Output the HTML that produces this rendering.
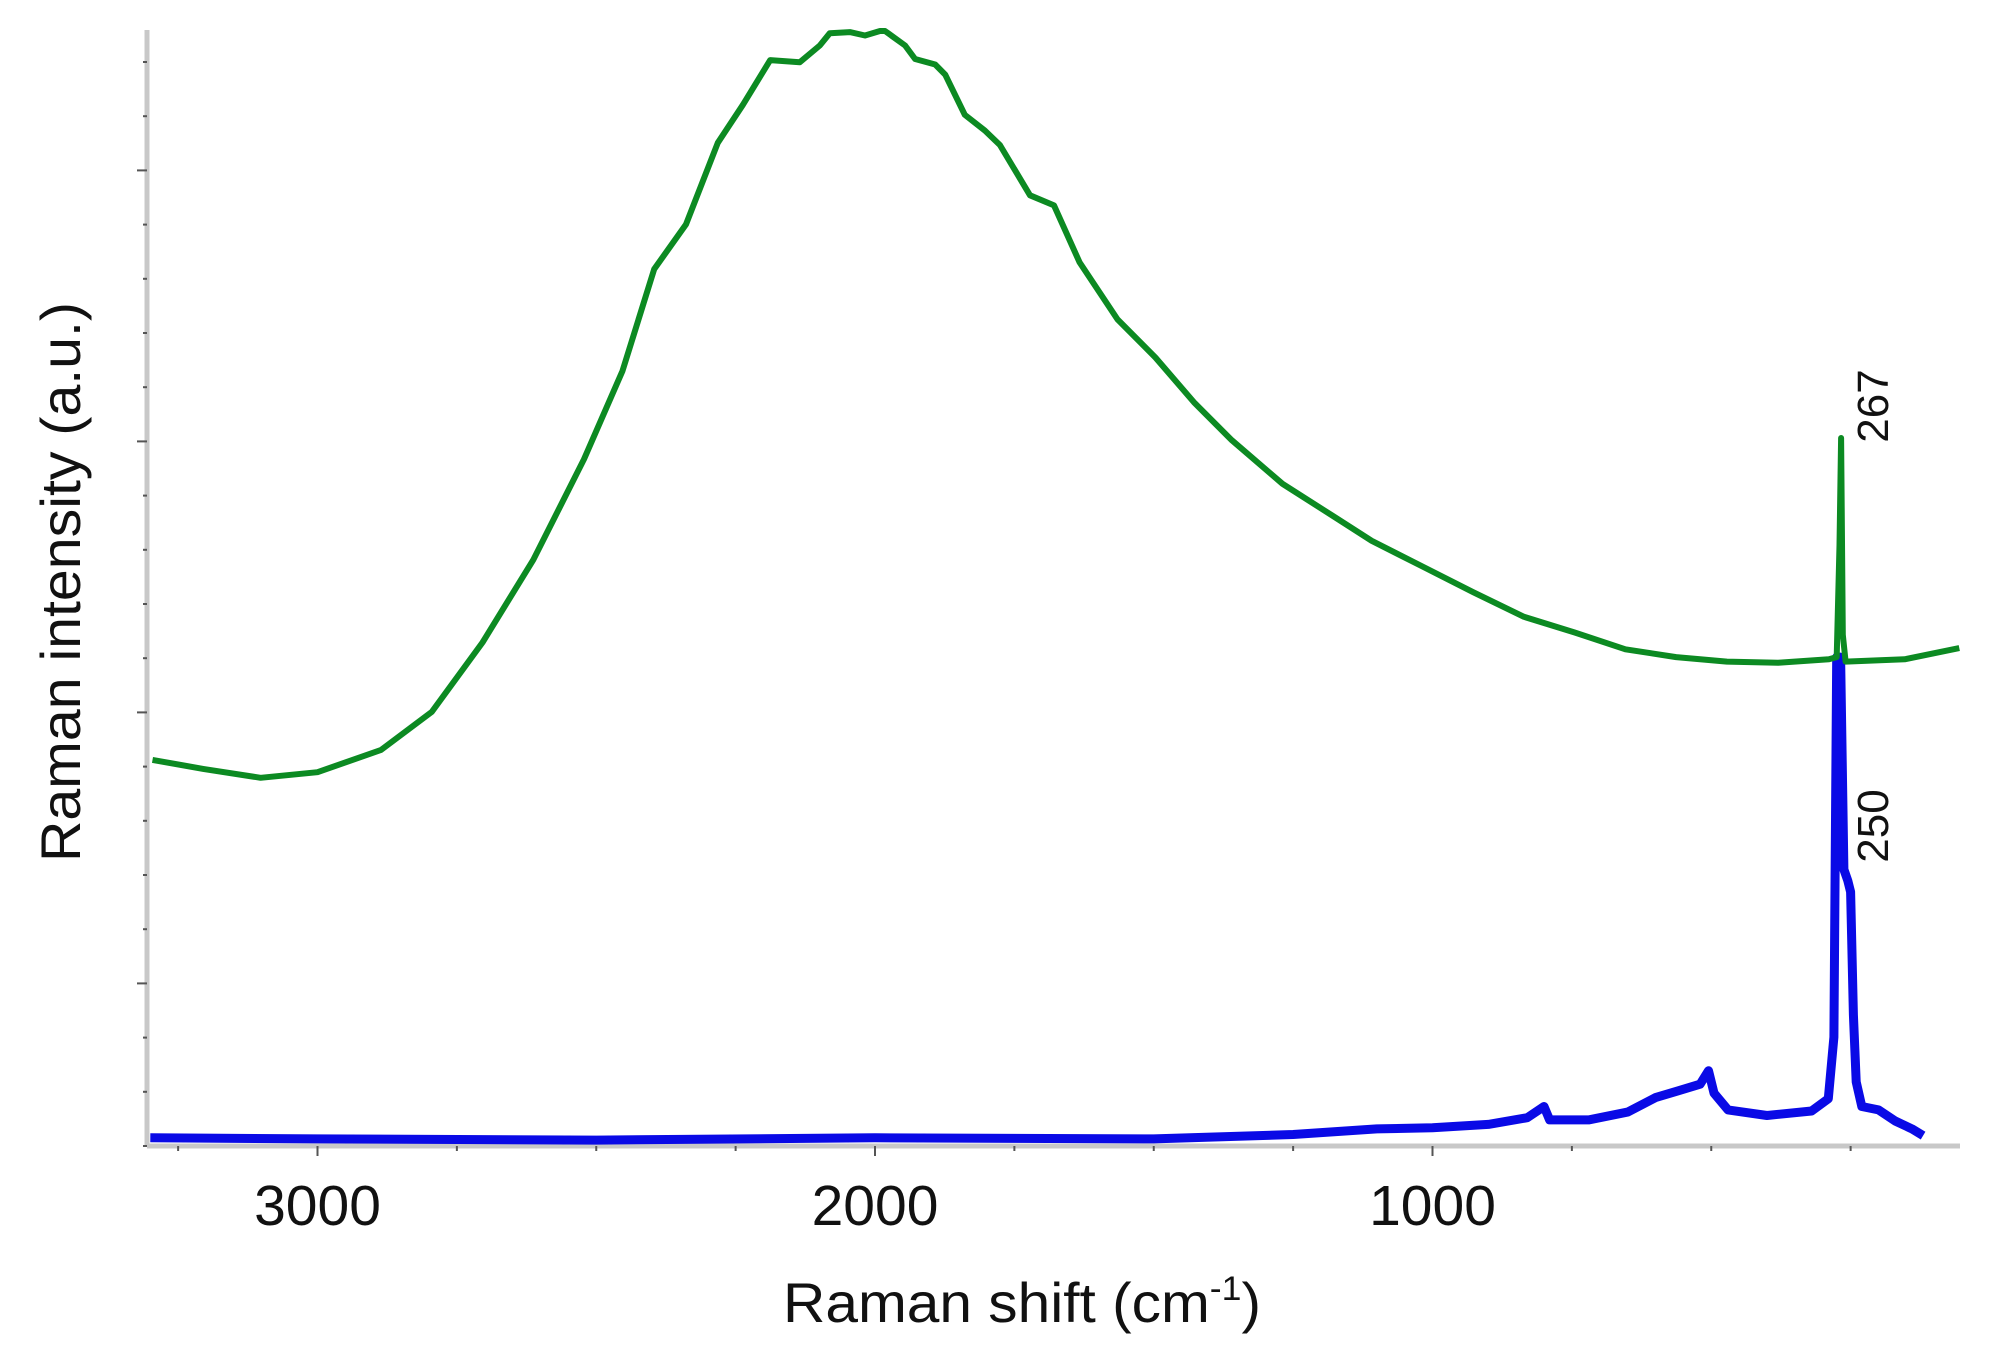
<!DOCTYPE html>
<html><head><meta charset="utf-8"><style>
html,body{margin:0;padding:0;background:#fff}
svg{display:block}
text{font-family:"Liberation Sans",sans-serif;fill:#111}
</style></head><body>
<svg id="chart" width="1991" height="1353" viewBox="0 0 1991 1353" xmlns="http://www.w3.org/2000/svg">
<g id="axes"></g>
<g id="series"></g>
<text x="1022" y="1322" font-size="56" text-anchor="middle" textLength="478" lengthAdjust="spacingAndGlyphs">Raman shift (cm<tspan font-size="34" dy="-22">-1</tspan><tspan dy="22">)</tspan></text>
<text transform="translate(80,582) rotate(-90)" font-size="56" text-anchor="middle" textLength="560" lengthAdjust="spacingAndGlyphs">Raman intensity (a.u.)</text>
<text transform="translate(1888,406) rotate(-90)" font-size="44" text-anchor="middle">267</text>
<text transform="translate(1888,826) rotate(-90)" font-size="44" text-anchor="middle">250</text>
</svg>
<script>
const xTickValues=[3000,2000,1000];
const xTickLabels=["3000","2000","1000"];
const greenShift=[3296,3205,3102,3000,2886,2795,2704,2613,2522,2453,2396,2339,2282,2237,2188,2135,2099,2081,2045,2018,1991,1982,1946,1928,1892,1874,1839,1803,1776,1722,1679,1633,1565,1497,1428,1360,1269,1178,1109,1018,927,836,745,654,563,472,380,289,275,270,267,264,259,153,55];
const greenIntensity=[34.8,34.0,33.2,33.7,35.7,39.1,45.3,52.7,61.7,69.6,78.7,82.7,90.0,93.4,97.4,97.2,98.7,99.8,99.9,99.6,100,100,98.7,97.5,97.0,96.1,92.5,91.1,89.8,85.3,84.4,79.3,74.2,70.8,66.8,63.4,59.5,56.6,54.4,52.1,49.8,47.6,46.2,44.7,44.0,43.6,43.5,43.8,44,54,63.6,46,43.6,43.8,44.8];
const blueShift=[3300,3000,2500,2000,1500,1250,1100,1000,900,830,800,790,720,650,600,560,520,505,495,470,400,320,290,280,275,268,262,255,250,245,240,230,200,170,140,120];
const blueIntensity=[1.0,0.9,0.8,1.0,0.9,1.3,1.8,1.9,2.2,2.8,3.8,2.6,2.6,3.3,4.6,5.2,5.8,7.0,5.0,3.5,3.0,3.4,4.5,10,44,44,25,24,23,12,6,3.8,3.5,2.5,1.8,1.2];

const NS="http://www.w3.org/2000/svg";
const X0=147,X1=1960,Y0=1146,Y1=28;
function xs(v){return 875+(2000-v)*0.5575;}
function ys(v){return Y0-(v/100)*(Y0-Y1)+3;}
function mk(tag,attrs,parent){const e=document.createElementNS(NS,tag);for(const k in attrs)e.setAttribute(k,attrs[k]);parent.appendChild(e);return e;}
const axes=document.getElementById('axes');
let e=mk('line',{x1:X0,y1:30,x2:X0,y2:Y0,stroke:'#c8c8c8','stroke-width':5},axes);


e=mk('line',{x1:X0,y1:Y0,x2:X1,y2:Y0,stroke:'#c8c8c8','stroke-width':5},axes);


for(let i=0;i<21;i++){
  const y=Y0-i*54.2;
  if(y<30)break;
  const major=(i%5===3);
  e=mk('line',{x1:major?X0-10:X0-4,y1:y,x2:X0,y2:y,stroke:'#555','stroke-width':2},axes);
  
  
}
for(let v=3250;v>=50;v-=250){
  const x=xs(v);const major=v%1000===0;
  e=mk('line',{x1:x,y1:Y0,x2:x,y2:Y0+(major?10:5),stroke:'#555','stroke-width':2},axes);
  
  
}
xTickValues.forEach((v,i)=>{
  const t=mk('text',{x:xs(v),y:1225,'font-size':57,'text-anchor':'middle'},axes);
  t.textContent=xTickLabels[i];
  
  
});
const series=document.getElementById('series');
function path(xa,ya){return xa.map((v,i)=>(i?'L':'M')+xs(v).toFixed(1)+','+ys(ya[i]).toFixed(1)).join(' ');}
e=mk('path',{d:path(blueShift,blueIntensity),fill:'none',stroke:'#0a0ae6','stroke-width':9,'stroke-linejoin':'round'},series);


e=mk('path',{d:path(greenShift,greenIntensity),fill:'none',stroke:'#0c8a22','stroke-width':6,'stroke-linejoin':'round'},series);


</script>
</body></html>
